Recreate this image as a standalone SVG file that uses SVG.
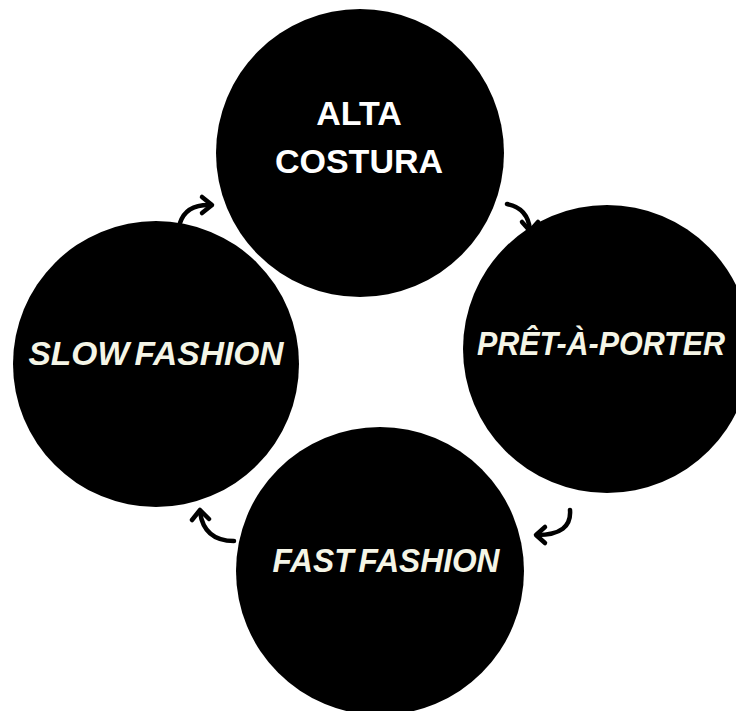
<svg xmlns="http://www.w3.org/2000/svg" width="736" height="711" viewBox="0 0 736 711">
<style>
.c{fill:#000}
.t{font-family:"Liberation Sans",Arial,sans-serif;font-weight:bold;font-size:34px;text-anchor:middle}
.up{fill:#fff}
.it{fill:#f5f5e6;font-style:italic}
.ar{fill:none;stroke:#000;stroke-width:4.5;stroke-linecap:round;stroke-linejoin:round}
</style>
<rect width="736" height="711" fill="#fff"/>
<g id="alta-costura">
<circle class="c" cx="360" cy="153" r="144"/>
<text class="t up" x="359" y="125">ALTA</text>
<text class="t up" x="359" y="173">COSTURA</text>
</g>
<g id="pret-a-porter">
<circle class="c" cx="607" cy="349" r="144"/>
<text class="t it" x="601" y="355" font-size="31" textLength="248" lengthAdjust="spacingAndGlyphs">PRÊT-À-PORTER</text>
</g>
<g id="fast-fashion">
<circle class="c" cx="380" cy="571" r="144"/>
<text class="t it" x="386" y="572" font-size="31" word-spacing="-4" textLength="227" lengthAdjust="spacingAndGlyphs">FAST FASHION</text>
</g>
<g id="slow-fashion">
<circle class="c" cx="156" cy="364" r="143"/>
<text class="t it" x="156" y="365" font-size="33" word-spacing="-4" textLength="255" lengthAdjust="spacingAndGlyphs">SLOW FASHION</text>
</g>
<g id="connectors">
<path class="ar" d="M180,223 Q186,204 211,205"/>
<path class="ar" d="M202,197 L212,205 L202,213"/>
<path class="ar" d="M507,204 Q528,208 530,230"/>
<path class="ar" d="M522,222 L530,231 L538,222"/>
<path class="ar" d="M570,510 Q572,535 537,535"/>
<path class="ar" d="M545,527 L536,535 L545,543"/>
<path class="ar" d="M234,541 Q204,541 200,512"/>
<path class="ar" d="M192,520 L200,510 L209,519"/>
</g>
</svg>
